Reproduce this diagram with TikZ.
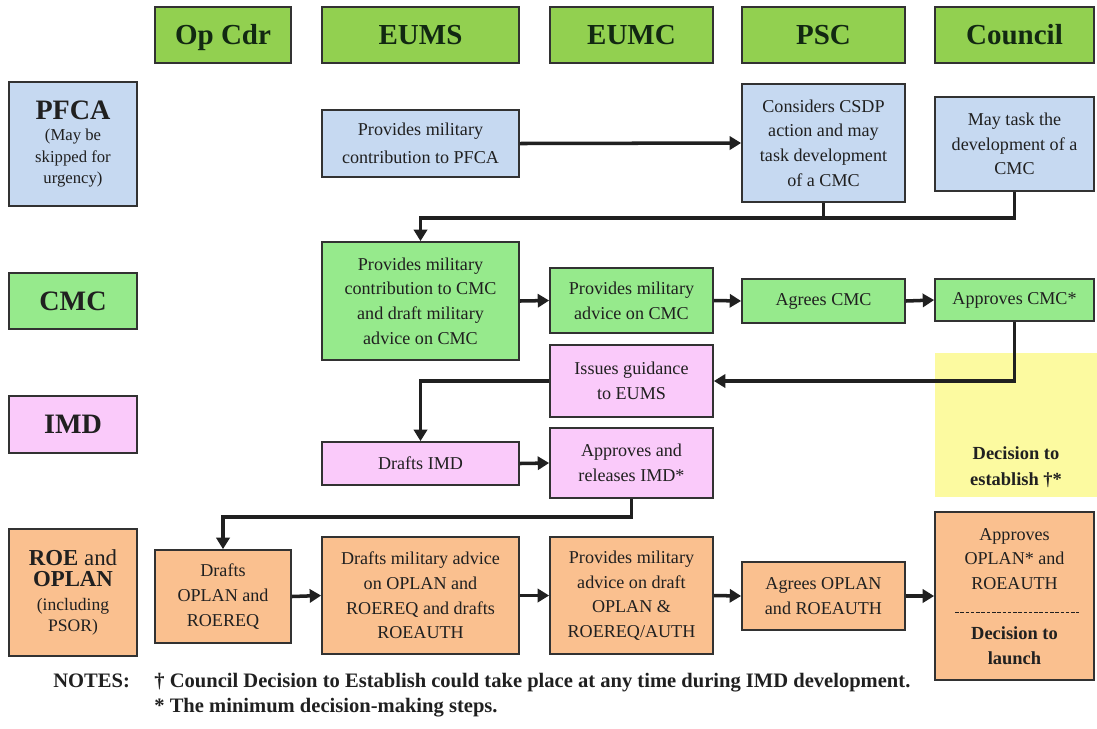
\documentclass[tikz,border=0pt]{standalone}
\usepackage{fontspec}
\setmainfont{Liberation Serif}
\usepackage{tikz}
\usetikzlibrary{arrows.meta, positioning, calc}
\definecolor{mydark}{RGB}{32,32,32}
\definecolor{hdrtext}{RGB}{18,40,18}
\definecolor{myframe}{RGB}{50,50,50}
\definecolor{hdrgreen}{RGB}{146,208,80}
\definecolor{boxblue}{RGB}{198,217,241}
\definecolor{boxgreen}{RGB}{150,234,140}
\definecolor{boxpink}{RGB}{250,202,250}
\definecolor{boxorange}{RGB}{250,192,143}
\definecolor{boxyellow}{RGB}{252,250,160}
\newcommand{\pxu}{0.02cm}
\tikzset{
  sz/.style 2 args={minimum width=#1*\pxu, minimum height=#2*\pxu},
  hdr/.style={rectangle, draw=myframe, fill=hdrgreen, line width=1.1pt,
    inner sep=0pt, text height=11pt, text depth=0pt,
    font=\fontsize{16.5}{18}\selectfont\bfseries, text=hdrtext},
  lbl/.style={rectangle, draw=myframe, line width=1pt, inner sep=0pt,
    align=center, text=mydark},
  block/.style={rectangle, draw=myframe, line width=1pt, inner sep=0pt,
    align=center, font=\fontsize{10.3}{14}\selectfont, text=mydark},
  txt/.style={inner sep=0pt, align=center, font=\fontsize{10.3}{13.8}\selectfont, text=mydark},
  dectxt/.style={inner sep=0pt, align=center, font=\fontsize{10.5}{14.5}\selectfont\bfseries, text=mydark},
  bluebox/.style={block, fill=boxblue},
  greenbox/.style={block, fill=boxgreen},
  pinkbox/.style={block, fill=boxpink},
  orangebox/.style={block, fill=boxorange},
  yellowbox/.style={rectangle, fill=boxyellow, inner sep=0pt},
  note/.style={inner sep=0pt, font=\fontsize{11.7}{14.2}\selectfont\bfseries, text=mydark},
  arrow/.style={-{Triangle[length=6.5pt, width=7.5pt]}, line width=2pt, color=mydark},
  line/.style={line width=2pt, color=mydark}
}

\begin{document}
\begin{tikzpicture}[x=0.02cm, y=-0.02cm]
  \useasboundingbox (0,0) rectangle (1097,728);

  % Column headers
  \foreach \cx/\w/\nm/\lab in {223/136/opcdr/Op Cdr, 420.5/197/eums/EUMS,
      631.5/163/eumc/EUMC, 823.5/163/psc/PSC, 1014.5/159/cncl/Council}
    \node[hdr, sz={\w}{56}] (h\nm) at (\cx,35) {\lab};

  % Row labels
  \node[lbl, fill=boxblue, sz={128}{124}] (pfca) at (73,144)
    {\fontsize{16}{18}\selectfont\bfseries PFCA\\
     \fontsize{9.5}{11}\selectfont\mdseries (May be\\
     \fontsize{9.5}{11}\selectfont skipped for\\
     \fontsize{9.5}{11}\selectfont urgency)};
  \node[lbl, fill=boxgreen, sz={128}{56}] (cmc) at (73,301)
    {\fontsize{16}{18}\selectfont\bfseries CMC};
  \node[lbl, fill=boxpink, sz={128}{57}] (imd) at (73,424.5)
    {\fontsize{16}{18}\selectfont\bfseries IMD};
  \node[lbl, fill=boxorange, sz={128}{127}] (roe) at (73,592.5)
    {\fontsize{13}{12.5}\selectfont\bfseries ROE \mdseries and\\
     \fontsize{13}{12.5}\selectfont\bfseries OPLAN\\[2pt]
     \fontsize{10}{12}\selectfont\mdseries (including\\
     \fontsize{10}{12}\selectfont PSOR)};

  % PFCA row
  \node[bluebox, sz={197}{67}] (eums1) at (420.5,143.5) {Provides military\\[2pt]contribution to PFCA};
  \node[bluebox, sz={163}{118}] (psc1) at (823.5,143) {Considers CSDP\\action and may\\task development\\of a CMC};
  \node[bluebox, sz={159}{94}] (cncl1) at (1014.5,144) {May task the\\development of a\\CMC};

  % CMC row
  \node[greenbox, sz={197}{118}] (eums2) at (420.5,301) {Provides military\\contribution to CMC\\and draft military\\advice on CMC};
  \node[greenbox, sz={163}{65}] (eumc2) at (631.5,300.5) {Provides military\\advice on CMC};
  \node[greenbox, sz={163}{44}] (psc2) at (823.5,301) {Agrees CMC};
  \node[greenbox, sz={159}{42}] (cncl2) at (1014.5,300) {Approves CMC*};

  % IMD row
  \node[yellowbox, sz={162}{144}] (estab) at (1016,425) {};
  \node[dectxt] (estabtxt) at (1016,467) {Decision to\\establish †*};
  \node[pinkbox, sz={163}{72}] (eumc3) at (631.5,381) {Issues guidance\\to EUMS};
  \node[pinkbox, sz={197}{43}] (eums3) at (420.5,463.5) {Drafts IMD};
  \node[pinkbox, sz={163}{70}] (eumc4) at (631.5,463) {Approves and\\releases IMD*};

  % ROE and OPLAN row
  \node[orangebox, sz={136}{93}] (opcdr5) at (223,596.5) {Drafts\\OPLAN and\\ROEREQ};
  \node[orangebox, sz={197}{117}] (eums5) at (420.5,595.5) {Drafts military advice\\on OPLAN and\\ROEREQ and drafts\\ROEAUTH};
  \node[orangebox, sz={163}{117}] (eumc5) at (631.5,595.5) {Provides military\\advice on draft\\OPLAN \&\\ROEREQ/AUTH};
  \node[orangebox, sz={163}{68}] (psc5) at (823.5,596) {Agrees OPLAN\\and ROEAUTH};
  \node[orangebox, sz={159}{168}] (cncl5) at (1014.5,596) {};
  \node[txt] (cncl5top) at (1014.5,559) {Approves\\OPLAN* and\\ROEAUTH};
  \draw[thin, color=mydark, dash pattern=on 2pt off 1pt]
    ($(cncl5.west)+(21,16)$) -- ($(cncl5.east)+(-16,16)$);
  \node[dectxt] (cncl5bot) at (1014.5,645.5) {Decision to\\launch};

  % Flow connectors
  \coordinate (jn1) at (823.5,218);
  \coordinate (jn2) at (631.5,517);
  \draw[arrow] (eums1.east) -- (psc1.west);
  \draw[line] (cncl1.south) |- (jn1);
  \draw[arrow] (psc1.south) -- (jn1) -| (eums2.north);
  \draw[arrow] (eums2.east) -- (eumc2.west);
  \draw[arrow] (eumc2.east) -- (psc2.west);
  \draw[arrow] (psc2.east) -- (cncl2.west);
  \draw[arrow] (cncl2.south) |- (eumc3.east);
  \draw[arrow] (eumc3.west) -| (eums3.north);
  \draw[arrow] (eums3.east) -- (eumc4.west);
  \draw[arrow] (eumc4.south) -- (jn2) -| (opcdr5.north);
  \draw[arrow] (opcdr5.east) -- (eums5.west);
  \draw[arrow] (eums5.east) -- (eumc5.west);
  \draw[arrow] (eumc5.east) -- (psc5.west);
  \draw[arrow] (psc5.east) -- (cncl5.west);

  % Notes
  \node[note, anchor=base west] (notehd) at (53,687) {NOTES:};
  \node[note, anchor=base west] (note1) at (154,687)
    {† Council Decision to Establish could take place at any time during IMD development.};
  \node[note, anchor=base west] (note2) at (154,712)
    {* The minimum decision-making steps.};
\end{tikzpicture}
\end{document}
